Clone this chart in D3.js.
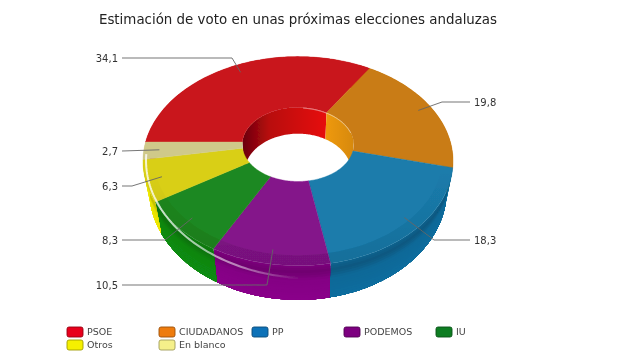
<!DOCTYPE html>
<html>
<head>
<meta charset="utf-8">
<script src="https://cdn.jsdelivr.net/npm/d3@7"></script>
<style>
  html, body { margin: 0; padding: 0; background: #fff; }
  text { font-family: "DejaVu Sans", sans-serif; }
</style>
</head>
<body>
<div id="chart"></div>
<script>
// data
var categories = ["PSOE", "CIUDADANOS", "PP", "PODEMOS", "IU", "Otros", "En blanco"];
var values = [34.1, 19.8, 18.3, 10.5, 8.3, 6.3, 2.7];
var titleText = "Estimación de voto en unas próximas elecciones andaluzas";

// colours per category
var topColors = ["#c9161b", "#c97b13", "#1a7bab", "#84138a", "#1f8820", "#d9cf14", "#cfc98a"];
var wallColors = ["#d80a10", "#d88008", "#0a6d9e", "#8a048a", "#0a8c12", "#f0ea00", "#e8e49a"];
var legendColors = ["#e8001a", "#ee7b10", "#1172b8", "#7d0080", "#0d7d20", "#f5f000", "#f5f08a"];

// layout of leaders: y of the horizontal run, x of the elbow, x of the far end
var leaderY = [58, 102, 240, 285, 240, 186, 151];
var elbowX = [232, 442, 434, 267, 165, 132, 122];
var leaderEndX = [122, 470, 470, 122, 122, 122, 122];

// legend layout (one entry per category)
var legendX = [67, 159, 252, 344, 436, 67, 159];
var legendY = [327, 327, 327, 327, 327, 340, 340];

var width = 643, height = 362;

// the ring is drawn with a small perspective, hub is not at the ellipse centre
var cx = 298, cy = 142;
var scaleU = 152.4, scaleV = 101, persp = 0.183, depth = 28;
var innerR = 0.365, labelR = 0.9;
var shrink = 0.04; // lower face is a bit narrower than the top

function project(theta, r, z) {
  var u = r * Math.sin(theta), v = r * Math.cos(theta);
  var s = 1 / (1 + persp * v);
  return [cx + scaleU * u * s * (1 - shrink * z), cy - scaleV * v * s + z * depth * s];
}

var line = d3.line();

function sampleAngles(a0, a1) {
  var n = Math.max(2, Math.ceil(Math.abs(a1 - a0) / 0.02));
  return d3.range(n + 1).map(function(i) { return a0 + (a1 - a0) * i / n; });
}

// closed band between two (r, z) rings, from angle a0 to a1
function bandPath(a0, a1, r0, z0, r1, z1) {
  var angles = sampleAngles(a0, a1);
  var pts = angles.map(function(a) { return project(a, r0, z0); })
    .concat(angles.slice().reverse().map(function(a) { return project(a, r1, z1); }));
  return line(pts) + "Z";
}

var svg = d3.select("#chart").append("svg")
  .attr("width", width)
  .attr("height", height)
  .style("display", "block");

var defs = svg.append("defs");
defs.append("filter").attr("id", "soft")
  .append("feGaussianBlur").attr("stdDeviation", 0.45);

// inner wall lighting, left to right
var wallGrad = defs.append("linearGradient").attr("id", "innerRed")
  .attr("gradientUnits", "userSpaceOnUse")
  .attr("x1", cx - 54).attr("x2", cx + 30).attr("y1", 0).attr("y2", 0);
wallGrad.append("stop").attr("offset", 0).attr("stop-color", "#6e0208");
wallGrad.append("stop").attr("offset", 0.3).attr("stop-color", "#b80a10");
wallGrad.append("stop").attr("offset", 1).attr("stop-color", "#e81010");

var orangeGrad = defs.append("linearGradient").attr("id", "innerOrange")
  .attr("gradientUnits", "userSpaceOnUse")
  .attr("x1", cx + 26).attr("x2", cx + 54).attr("y1", 0).attr("y2", 0);
orangeGrad.append("stop").attr("offset", 0).attr("stop-color", "#f09a08");
orangeGrad.append("stop").attr("offset", 1).attr("stop-color", "#d88a10");

var shineGrad = defs.append("linearGradient").attr("id", "shine")
  .attr("gradientUnits", "userSpaceOnUse")
  .attr("x1", 143).attr("x2", 300).attr("y1", 0).attr("y2", 0);
shineGrad.append("stop").attr("offset", 0).attr("stop-color", "#fff").attr("stop-opacity", 0.8);
shineGrad.append("stop").attr("offset", 0.6).attr("stop-color", "#fff").attr("stop-opacity", 0.5);
shineGrad.append("stop").attr("offset", 1).attr("stop-color", "#fff").attr("stop-opacity", 0);

// rim of the top surface only darkens towards the front
var rimGrad = defs.append("linearGradient").attr("id", "rimShade")
  .attr("gradientUnits", "userSpaceOnUse")
  .attr("x1", 0).attr("x2", 0).attr("y1", 170).attr("y2", 265);
rimGrad.append("stop").attr("offset", 0).attr("stop-color", "#000").attr("stop-opacity", 0);
rimGrad.append("stop").attr("offset", 1).attr("stop-color", "#000").attr("stop-opacity", 0.1);

var root = svg.append("g").attr("filter", "url(#soft)");

// title
root.append("text")
  .attr("x", 298)
  .attr("y", 24)
  .attr("text-anchor", "middle")
  .attr("font-size", 13.4)
  .attr("fill", "#222")
  .text(titleText);

// clockwise from the left, in the original order
var pie = d3.pie().sort(null).startAngle(-Math.PI / 2).endAngle(1.5 * Math.PI);
var slices = pie(values);

var ring = root.append("g");

// outer walls in thin steps so the shading runs smoothly: each step reaches
// down to the base and the next one paints over it, so no seams show
var wallShade = d3.scaleLinear().domain([0, 0.2, 0.42, 1]).range([0.3, 0.6, 0.12, 0]);
var wallSteps = d3.range(14);
slices.forEach(function(d, i) {
  var wall = d3.color(wallColors[i]);
  wallSteps.forEach(function(k) {
    ring.append("path")
      .attr("d", bandPath(d.startAngle, d.endAngle, 1, k / 14, 1, 1))
      .attr("fill", wall.darker(wallShade((k + 0.5) / 14)));
  });
});

// back half of the hole wall, the top surface hides whatever overlaps it
var holeBack = [[-Math.PI / 2, slices[0].endAngle, "url(#innerRed)"],
                [slices[0].endAngle, Math.PI / 2, "url(#innerOrange)"]];
holeBack.forEach(function(h) {
  ring.append("path")
    .attr("d", bandPath(h[0], h[1], innerR, 0, innerR, 1))
    .attr("fill", h[2]);
});

// top surface and its soft rim
slices.forEach(function(d, i) {
  var top = d3.color(topColors[i]);
  ring.append("path")
    .attr("d", bandPath(d.startAngle, d.endAngle, innerR, 0, 1, 0))
    .attr("fill", top).attr("stroke", top).attr("stroke-width", 0.4);
  ring.append("path")
    .attr("d", bandPath(d.startAngle, d.endAngle, 0.93, 0, 1, 0))
    .attr("fill", "url(#rimShade)");
});

// shine along the front left of the rim, sits higher on the left end
var shineStart = Math.PI * 1.0, shineEnd = Math.PI * 1.46;
var shineZ = d3.scaleLinear().domain([shineStart, shineEnd]).range([0.36, -0.02]);
var shineR = d3.scaleLinear().domain([shineStart, shineEnd]).range([1, 0.98]);
ring.append("path")
  .attr("d", line(sampleAngles(shineStart, shineEnd).map(function(a) {
    return project(a, shineR(a), shineZ(a));
  })))
  .attr("fill", "none")
  .attr("stroke", "url(#shine)")
  .attr("stroke-width", 2);

// thin light lip at the back of the hole
ring.append("path")
  .attr("d", line(sampleAngles(0.1, 1.3).map(function(a) { return project(a, innerR, 0.02); })))
  .attr("fill", "none")
  .attr("stroke", "#fff")
  .attr("stroke-opacity", 0.55)
  .attr("stroke-width", 0.9);

// leaders and value labels
var labels = root.append("g");
slices.forEach(function(d, i) {
  var anchor = project((d.startAngle + d.endAngle) / 2, labelR, 0);
  labels.append("path")
    .attr("d", line([anchor, [elbowX[i], leaderY[i]], [leaderEndX[i], leaderY[i]]]))
    .attr("fill", "none")
    .attr("stroke", "#666")
    .attr("stroke-width", 0.9);
  var onRight = leaderEndX[i] > cx;
  labels.append("text")
    .attr("x", leaderEndX[i] + (onRight ? 4 : -4))
    .attr("y", leaderY[i])
    .attr("dy", "0.35em")
    .attr("text-anchor", onRight ? "start" : "end")
    .attr("font-size", 10)
    .attr("fill", "#333")
    .text(String(values[i]).replace(".", ","));
});

// legend
var legend = root.append("g");
categories.forEach(function(name, i) {
  var c = d3.color(legendColors[i]);
  legend.append("rect")
    .attr("x", legendX[i])
    .attr("y", legendY[i])
    .attr("width", 16)
    .attr("height", 10)
    .attr("rx", 2)
    .attr("fill", c)
    .attr("stroke", c.darker(1.2))
    .attr("stroke-width", 0.9);
  legend.append("text")
    .attr("x", legendX[i] + 20)
    .attr("y", legendY[i] + 5)
    .attr("dy", "0.35em")
    .attr("font-size", 9.5)
    .attr("fill", "#444")
    .text(name);
});
</script>
</body>
</html>
